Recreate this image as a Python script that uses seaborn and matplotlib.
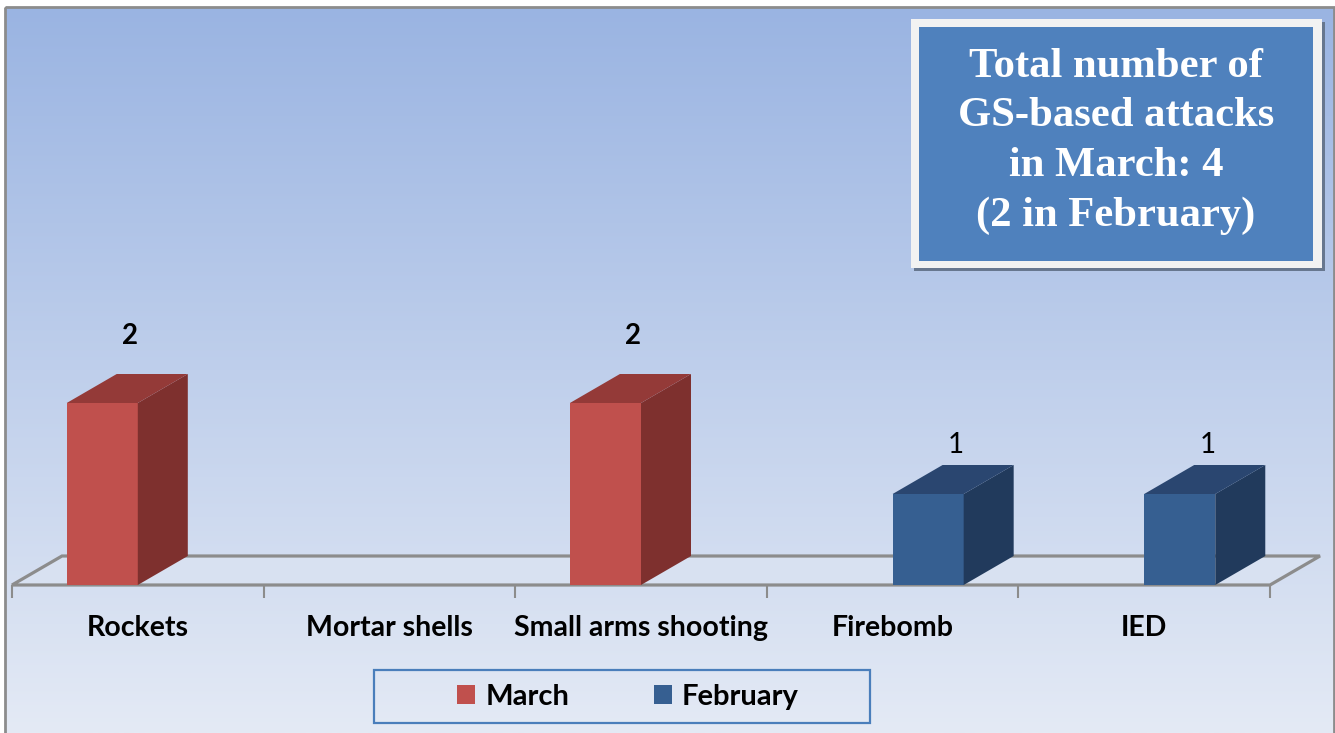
import numpy as np
import pandas as pd
import matplotlib
matplotlib.use("Agg")
import matplotlib.pyplot as plt
from matplotlib.patches import Polygon, Rectangle, Patch
import seaborn as sns

# Données
categories = ["Rockets", "Mortar shells", "Small arms shooting", "Firebomb", "IED"]
months = ["March", "February"]
march_counts = [2, 0, 2, 0, 0]
february_counts = [0, 0, 0, 1, 1]
title_lines = ["Total number of", "GS-based attacks", "in March: 4", "(2 in February)"]

df = pd.DataFrame({
    "type": categories * 2,
    "month": ["March"] * len(categories) + ["February"] * len(categories),
    "count": march_counts + february_counts,
})

front_colors = {"March": "#C0504D", "February": "#365F91"}
side_colors = {"March": "#7E302E", "February": "#213A5C"}
top_colors = {"March": "#943A38", "February": "#2A4670"}
label_offset = {"March": 0.74, "February": 0.54}

W, H = 1335, 733
fig = plt.figure(figsize=(W / 100, H / 100), dpi=100, facecolor="white")

# Fond en dégradé (coordonnées en pixels)
bg = fig.add_axes([0, 0, 1, 1], zorder=-1)
bg.set_xlim(0, W)
bg.set_ylim(H, 0)
bg.axis("off")
top_rgb = np.array([0x9A, 0xB4, 0xE2]) / 255
bot_rgb = np.array([0xE4, 0xEA, 0xF5]) / 255
t = np.linspace(0, 1, 256)[:, None]
grad = (top_rgb * (1 - t) + bot_rgb * t)[:, None, :]
bg.imshow(grad, extent=(5, W - 1, H, 7), aspect="auto", interpolation="bilinear")
bg.add_patch(Rectangle((5, 7), W - 6, H, fill=False, edgecolor="#8C8C8C", lw=2))

# Encadré du titre
bg.add_patch(Rectangle((914, 22), 411, 249, facecolor="#67778F", edgecolor="none"))
bg.add_patch(Rectangle((911, 19), 411, 249, facecolor="#F2F2F2", edgecolor="none"))
bg.add_patch(Rectangle((919, 27), 394, 234, facecolor="#4F81BD", edgecolor="none"))
for i, line in enumerate(title_lines):
    bg.text(1116, 67 + i * 49.5, line, ha="center", va="center", color="white",
            fontsize=30.7, fontweight="bold", family="Liberation Serif")

# Graphique principal
ax = fig.add_axes([12 / W, (H - 585) / H, 1258 / W, 555 / H])
ax.set_facecolor("none")
sns.barplot(data=df, x="type", y="count", hue="month", hue_order=months,
            palette=front_colors, width=0.565, saturation=1, legend=False,
            errorbar=None, ax=ax, zorder=3)
ax.set_xlim(-0.5, len(categories) - 0.5)
ax.set_ylim(0, 555 / 91)

# Effet 3D : décalage de profondeur
dx = 50 / (1258 / len(categories))
dy = 29 / 91

floor_col = "#8C8C8C"
x0, x1 = -0.5, len(categories) - 0.5
ax.add_patch(Polygon([(x0, 0), (x1, 0), (x1 + dx, dy), (x0 + dx, dy)], closed=True,
                     facecolor="#D8E1F1", edgecolor=floor_col, lw=2.3,
                     clip_on=False, zorder=1))

for month, cont in zip(months, ax.containers):
    for bar in cont:
        h = bar.get_height()
        if h <= 0:
            bar.set_visible(False)
            continue
        bx0 = bar.get_x()
        bx1 = bx0 + bar.get_width()
        ax.add_patch(Polygon([(bx1, 0), (bx1 + dx, dy), (bx1 + dx, h + dy), (bx1, h)],
                             closed=True, facecolor=side_colors[month], edgecolor="none",
                             clip_on=False, zorder=3))
        ax.add_patch(Polygon([(bx0, h), (bx0 + dx, h + dy), (bx1 + dx, h + dy), (bx1, h)],
                             closed=True, facecolor=top_colors[month], edgecolor="none",
                             clip_on=False, zorder=3))
        ax.text(bx0 + bar.get_width() / 2 + 0.11, h + label_offset[month], f"{int(h)}",
                ha="center", va="center", fontsize=20, family="Lato",
                fontweight="bold" if month == "March" else "normal", color="black")

# Axes
for s in ax.spines.values():
    s.set_visible(False)
ax.set_yticks([])
ax.set_xlabel("")
ax.set_ylabel("")
ax.set_xticks(range(len(categories)))
ax.set_xticklabels(categories, fontsize=20.5, fontweight="bold", family="Lato")
ax.set_xticks(np.arange(-0.5, len(categories)), minor=True)
ax.tick_params(axis="x", which="major", length=0, pad=21.5)
ax.tick_params(axis="x", which="minor", length=9, width=1.5, color=floor_col)

# Légende
bg.add_patch(Rectangle((374, 670), 496, 53, fill=False, edgecolor="#4A7EBB", lw=1.6))
handles = [Patch(facecolor=front_colors[m], edgecolor="none") for m in months]
leg = fig.legend(handles, months, loc="center", bbox_to_anchor=(628 / W, 1 - 697 / H),
                 ncol=2, frameon=False, handlelength=0.62, handleheight=0.62,
                 handletextpad=0.34, columnspacing=2.9, borderpad=0,
                 prop={"family": "Lato", "weight": "bold", "size": 21})

fig.savefig("out.png", dpi=100, facecolor="white")
